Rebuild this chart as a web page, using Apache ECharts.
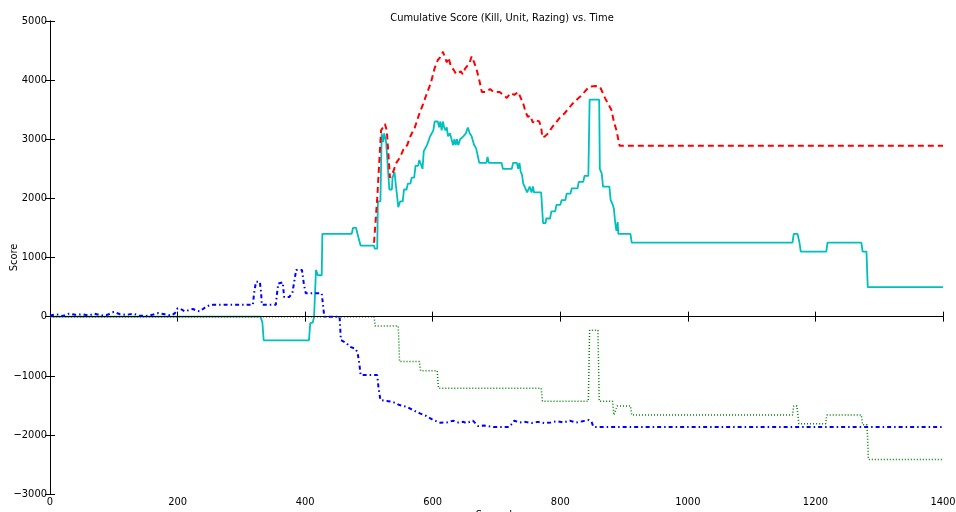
<!DOCTYPE html>
<html><head><meta charset="utf-8">
<script src="https://cdn.jsdelivr.net/npm/echarts@6/dist/echarts.min.js"></script>
<style>html,body{margin:0;padding:0;background:#fff}#c{width:956px;height:512px}</style>
</head><body><div id="c"></div>
<script>
var title = "Cumulative Score (Kill, Unit, Razing) vs. Time";
var xTicks = [0,200,400,600,800,1000,1200,1400];
var yTicks = [-3000,-2000,-1000,0,1000,2000,3000,4000,5000];

var redT = [508,511,513,516,519,522,525,528,530,533,538,543,549,555,560,565,572,578,585,591,597,603,608,613,616,619,622,625,628,633,637,640,644,647,651,655,658,661,665,669,673,677,684,690,695,705,716,722,728,734,738,742,746,749,753,757,760,763,767,770,772,776,781,787,793,799,806,813,820,827,833,838,842,846,855,862,866,870,875,880,884,888,893,1400];
var redV = [1250,1280,2000,2000,3150,3200,3260,3150,3150,2350,2450,2600,2700,2850,2900,3050,3200,3400,3600,3780,3950,4200,4340,4400,4480,4450,4300,4380,4250,4170,4100,4080,4150,4100,4200,4250,4300,4400,4300,4170,4000,3800,3800,3850,3800,3800,3700,3780,3750,3800,3700,3600,3450,3380,3400,3280,3330,3360,3300,3200,3030,3050,3100,3200,3280,3360,3430,3520,3610,3680,3740,3800,3850,3890,3900,3890,3800,3700,3600,3500,3300,3150,2890,2890];

var cyanT = [0,330,333,335,406,408,412,414,416,417,420,426,427,473,475,480,482,485,487,508,509,513,514,518,520,522,524,527,530,532,536,537,540,543,546,549,553,555,559,561,565,567,571,573,577,579,582,584,586,589,591,594,596,599,601,603,608,610,612,614,616,618,620,622,624,627,630,632,634,636,638,640,643,648,652,655,658,661,665,668,671,673,684,686,688,708,710,724,726,732,734,736,738,740,742,745,748,750,752,755,757,759,770,773,777,778,784,786,792,794,800,802,808,810,816,818,827,829,836,838,844,846,861,862,865,867,877,879,882,884,886,888,890,891,910,912,1164,1166,1172,1175,1177,1217,1219,1272,1274,1280,1282,1400];
var cyanV = [0,0,-100,-400,-400,-110,-100,0,0,790,700,700,1400,1400,1500,1500,1400,1400,1200,1200,1150,1150,1950,1950,3100,2950,3100,2950,2950,2150,2150,2350,2450,2450,1850,1950,1950,2150,2150,2250,2250,2350,2350,2550,2550,2650,2650,2500,2800,2800,2900,2900,3050,3050,3150,3300,3300,3200,3300,3150,3300,3200,3150,3200,3050,3100,3100,2900,3000,2900,3000,2900,3000,3050,3100,3200,3100,3050,2900,2850,2700,2600,2600,2700,2600,2600,2500,2500,2600,2600,2500,2600,2450,2400,2250,2250,2100,2100,2200,2100,2200,2100,2100,1580,1580,1660,1660,1780,1780,1890,1890,1970,1970,2080,2080,2170,2170,2280,2280,2380,2380,3670,3670,2500,2420,2200,2200,1970,1900,1830,1600,1450,1600,1400,1400,1250,1250,1400,1400,1250,1100,1100,1250,1250,1100,1100,500,500];

var greenT = [0,508,510,546,548,579,581,607,609,770,772,844,846,859,861,882,884,887,889,910,912,1164,1166,1171,1174,1216,1218,1272,1274,1281,1283,1400];
var greenV = [0,0,-160,-160,-760,-760,-915,-915,-1210,-1210,-1430,-1430,-230,-230,-1430,-1430,-1665,-1665,-1510,-1510,-1665,-1665,-1510,-1510,-1810,-1810,-1665,-1665,-1830,-1830,-2415,-2415];

var blueT = [0,10,20,30,40,50,60,70,80,90,100,110,120,130,140,150,160,170,180,190,196,200,205,211,218,224,230,235,240,245,250,256,318,320,323,329,331,332,354,356,358,365,367,375,380,383,386,395,398,401,426,428,430,454,456,465,470,478,482,485,487,513,515,518,537,548,559,569,580,590,601,612,622,632,640,648,653,663,671,680,695,720,728,736,745,755,765,775,785,795,805,815,825,835,845,849,852,1400];
var blueV = [20,40,10,50,30,40,20,50,20,30,80,40,30,50,20,10,30,60,40,20,60,140,130,90,110,130,100,90,130,170,190,200,200,400,590,590,400,200,200,400,560,580,330,330,400,600,790,790,550,394,394,200,0,0,-396,-450,-509,-540,-600,-800,-988,-988,-1200,-1411,-1440,-1496,-1525,-1580,-1637,-1680,-1750,-1795,-1790,-1760,-1790,-1780,-1800,-1760,-1851,-1840,-1865,-1865,-1760,-1790,-1780,-1800,-1780,-1800,-1790,-1770,-1790,-1760,-1790,-1770,-1750,-1780,-1865,-1865];

function pairs(t, v){ return t.map(function(x,i){ return [x, v[i]]; }); }
function fmt(v){ return String(v).replace('-', '\u2212'); }

var FONT = '"DejaVu Sans Condensed","DejaVu Sans",sans-serif';
var chart = echarts.init(document.getElementById('c'), null, {renderer:'canvas'});
var axisLine = {show:true, lineStyle:{color:'#000', width:1}};
var tick = {show:true, inside:true, length:5, lineStyle:{color:'#000'}};
chart.setOption({
  animation:false,
  backgroundColor:'#fff',
  title:{text:title, left:497, textAlign:'center', top:8, textStyle:{fontFamily:FONT, fontSize:11, fontWeight:'normal', color:'#000'}},
  grid:{left:50, right:13, top:21, bottom:18, containLabel:false, outerBoundsMode:'none'},
  xAxis:[
    {type:'value', min:0, max:1400, interval:200, name:'Seconds', nameLocation:'middle', nameGap:16, nameMoveOverlap:false,
     nameTextStyle:{fontFamily:FONT, fontSize:11, color:'#000'},
     axisLine:axisLine, axisTick:tick, splitLine:{show:false},
     axisLabel:{fontFamily:FONT, fontSize:11, color:'#000', margin:3, formatter:fmt}},
    {type:'value', position:'top', min:0, max:1400, interval:200,
     axisLine:axisLine, axisTick:tick, splitLine:{show:false}, axisLabel:{show:false}}
  ],
  yAxis:[
    {type:'value', min:-3000, max:5000, interval:1000, name:'Score', nameLocation:'middle', nameGap:30, nameMoveOverlap:false,
     nameTextStyle:{fontFamily:FONT, fontSize:11, color:'#000'},
     axisLine:axisLine, axisTick:tick, splitLine:{show:false},
     axisLabel:{fontFamily:FONT, fontSize:11, color:'#000', margin:3, formatter:fmt}},
    {type:'value', position:'right', min:-3000, max:5000, interval:1000,
     axisLine:axisLine, axisTick:tick, splitLine:{show:false}, axisLabel:{show:false}}
  ],
  series:[
    {type:'line', name:'Unit', data:pairs(cyanT,cyanV), showSymbol:false, symbol:'none', z:2,
     lineStyle:{color:'#00bfbf', width:1.8, type:'solid'}},
    {type:'line', name:'Kill', data:pairs(redT,redV), showSymbol:false, symbol:'none', z:3,
     lineStyle:{color:'#ff0000', width:2, type:[6,4]}},
    {type:'line', name:'Razing', data:pairs(greenT,greenV), showSymbol:false, symbol:'none', z:4,
     lineStyle:{color:'#008000', width:1.5, type:[1,2]}},
    {type:'line', name:'Other', data:pairs(blueT,blueV), showSymbol:false, symbol:'none', z:5,
     lineStyle:{color:'#0000ff', width:2, type:[4,3,1.5,3]},
     markLine:{silent:true, symbol:'none', label:{show:false},
       lineStyle:{color:'#000', width:1, type:'solid'}, data:[{yAxis:0}]}}
  ]
});
</script></body></html>
